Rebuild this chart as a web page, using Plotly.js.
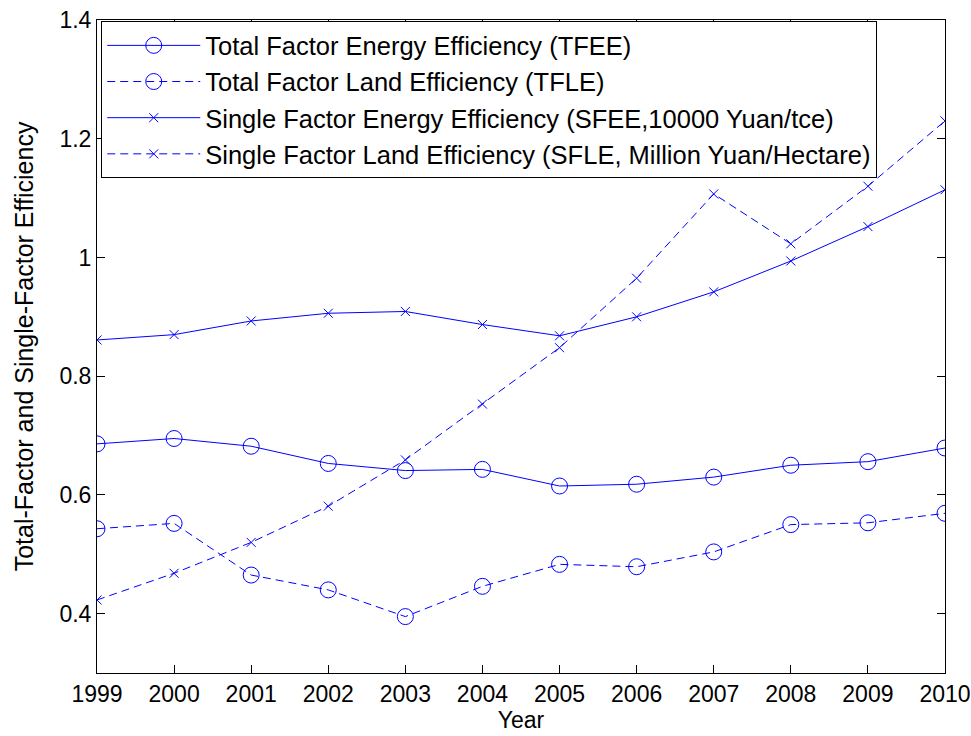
<!DOCTYPE html>
<html>
<head>
<meta charset="utf-8">
<script src="https://cdn.plot.ly/plotly-3.0.1.min.js"></script>
<style>
  html, body { margin: 0; padding: 0; background: #ffffff; }
  #chart { width: 971px; height: 736px; }
</style>
</head>
<body>
<div id="chart"></div>
<script>
// Years on the horizontal axis
const years = [1999, 2000, 2001, 2002, 2003, 2004, 2005, 2006, 2007, 2008, 2009, 2010];

// Total-factor efficiencies
const tfee = [0.686, 0.695, 0.682, 0.653, 0.641, 0.643, 0.615, 0.618, 0.630, 0.650, 0.656, 0.679];
const tfle = [0.543, 0.552, 0.465, 0.440, 0.395, 0.446, 0.483, 0.479, 0.504, 0.550, 0.553, 0.569];

// Single-factor efficiencies
const sfee = [0.861, 0.870, 0.893, 0.906, 0.909, 0.887, 0.868, 0.900, 0.942, 0.994, 1.052, 1.114];
const sfle = [0.423, 0.468, 0.520, 0.581, 0.659, 0.753, 0.848, 0.965, 1.107, 1.023, 1.120, 1.230];

// Series labels
const seriesNames = [
  "Total Factor Energy Efficiency (TFEE)",
  "Total Factor Land Efficiency (TFLE)",
  "Single Factor Energy Efficiency (SFEE,10000 Yuan/tce)",
  "Single Factor Land Efficiency (SFLE, Million Yuan/Hectare)"
];

const yTicks = [0.4, 0.6, 0.8, 1.0, 1.2, 1.4];
const yTickText = ["0.4", "0.6", "0.8", "1", "1.2", "1.4"];

const blue = "#0000ff";
const dashed = "8px,5px";
const font = "Liberation Sans, Arial, Helvetica, sans-serif";

function series(y, name, symbol, size, dash, group) {
  return {
    x: years, y: y, name: name, type: "scatter", mode: "lines+markers",
    legendgroup: group,
    line: { color: blue, width: 1, dash: dash },
    marker: { symbol: symbol, size: size, color: blue, line: { color: blue, width: 1 } }
  };
}

const traces = [
  series(tfee, seriesNames[0], "circle-open", 16, "solid", "g1"),
  series(tfle, seriesNames[1], "circle-open", 16, dashed, "g2"),
  series(sfee, seriesNames[2], "x-thin-open", 9, "solid", "g3"),
  series(sfle, seriesNames[3], "x-thin-open", 9, dashed, "g4")
];

const axisCommon = {
  showline: true, linecolor: "#000000", linewidth: 1, mirror: "ticks",
  ticks: "inside", ticklen: 8, tickcolor: "#000000", tickwidth: 1,
  showgrid: false, zeroline: false,
  tickfont: { family: font, size: 23, color: "#000000" }
};

const layout = {
  width: 971, height: 736,
  margin: { l: 97, r: 26, t: 20, b: 63 },
  paper_bgcolor: "#ffffff", plot_bgcolor: "#ffffff",
  font: { family: font, color: "#000000" },
  showlegend: true,
  legend: {
    x: 0.005, y: 0.998, xanchor: "left", yanchor: "top",
    bgcolor: "#ffffff", bordercolor: "#000000", borderwidth: 1,
    font: { family: font, size: 25.5, color: "#000000" },
    itemwidth: 93,
    tracegroupgap: 10, traceorder: "normal"
  },
  xaxis: Object.assign({}, axisCommon, {
    range: [1999, 2010], tickmode: "array", tickvals: years,
    ticktext: years.map(String),
    title: { text: "Year", font: { family: font, size: 23, color: "#000000" }, standoff: 2 }
  }),
  yaxis: Object.assign({}, axisCommon, {
    range: [0.3, 1.4], tickmode: "array", tickvals: yTicks, ticktext: yTickText,
    title: { text: "Total-Factor and Single-Factor Efficiency", font: { family: font, size: 25, color: "#000000" }, standoff: 18 }
  })
};

Plotly.newPlot("chart", traces, layout, { displayModeBar: false, staticPlot: true });
</script>
</body>
</html>
